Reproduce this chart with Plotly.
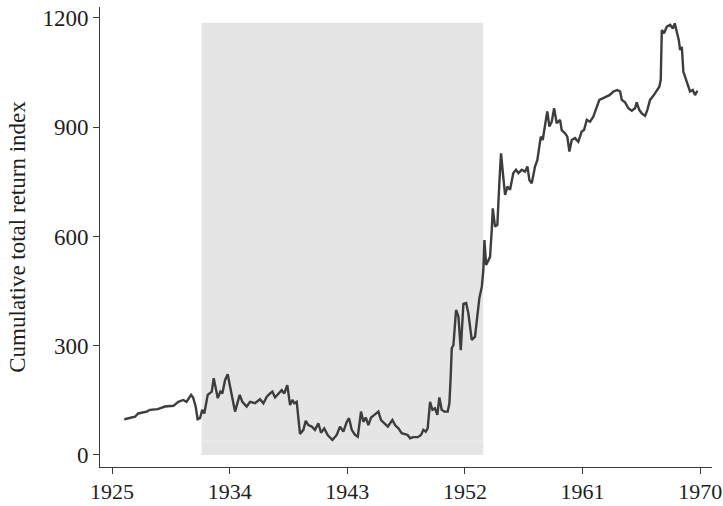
import plotly.graph_objects as go

# Cumulative total return index, read at irregular dates (decimal years)
years = [
    1925.94, 1926.76, 1927.0, 1927.65, 1927.9, 1928.5, 1929.05, 1929.7, 1930.07, 1930.45,
    1930.7, 1931.05, 1931.2, 1931.4, 1931.55, 1931.73, 1931.9, 1932.06, 1932.32, 1932.63,
    1932.78, 1932.93, 1933.09, 1933.29, 1933.44, 1933.65, 1933.85, 1934.03, 1934.2, 1934.41,
    1934.77, 1934.97, 1935.3, 1935.56, 1935.94, 1936.32, 1936.58, 1936.84, 1937.09, 1937.27,
    1937.47, 1937.73, 1937.98, 1938.18, 1938.41, 1938.62, 1938.8, 1938.95, 1939.13, 1939.38,
    1939.64, 1939.82, 1940.02, 1940.28, 1940.53, 1940.78, 1940.99, 1941.24, 1941.5, 1941.86,
    1942.19, 1942.44, 1942.7, 1942.96, 1943.13, 1943.34, 1943.59, 1943.8, 1944.05, 1944.23,
    1944.41, 1944.61, 1944.82, 1945.07, 1945.18, 1945.38, 1945.58, 1945.84, 1946.1, 1946.27,
    1946.45, 1946.65, 1946.91, 1947.16, 1947.42, 1947.62, 1947.8, 1948.05, 1948.39, 1948.64,
    1948.82, 1949.0, 1949.15, 1949.33, 1949.51, 1949.71, 1949.89, 1950.04, 1950.22, 1950.43,
    1950.68, 1950.81, 1950.91, 1950.99, 1951.12, 1951.32, 1951.5, 1951.68, 1951.88, 1952.09,
    1952.26, 1952.52, 1952.77, 1952.95, 1953.1, 1953.29, 1953.41, 1953.49, 1953.62, 1953.8,
    1953.92, 1954.05, 1954.13, 1954.3, 1954.48, 1954.63, 1954.76, 1954.94, 1955.07, 1955.25,
    1955.45, 1955.7, 1955.91, 1956.09, 1956.34, 1956.6, 1956.78, 1956.93, 1957.11, 1957.36,
    1957.54, 1957.8, 1957.95, 1958.13, 1958.3, 1958.46, 1958.64, 1958.82, 1959.02, 1959.28,
    1959.4, 1959.66, 1959.83, 1959.99, 1960.17, 1960.42, 1960.67, 1960.93, 1961.11, 1961.32,
    1961.57, 1961.82, 1962.08, 1962.28, 1962.54, 1962.8, 1963.05, 1963.36, 1963.66, 1963.87,
    1964.0, 1964.25, 1964.5, 1964.76, 1965.01, 1965.14, 1965.34, 1965.53, 1965.78, 1965.95,
    1966.16, 1966.41, 1966.67, 1966.87, 1966.98, 1967.06, 1967.23, 1967.44, 1967.7, 1967.9,
    1968.05, 1968.2, 1968.36, 1968.46, 1968.59, 1968.71, 1968.92, 1969.1, 1969.22, 1969.43,
    1969.6, 1969.78,
]
index_values = [
    98, 105, 114, 119, 124, 126, 133, 135, 146, 151,
    146, 165, 158, 133, 98, 101, 124, 114, 165, 174,
    211, 183, 156, 174, 169, 206, 222, 188, 160, 119,
    165, 146, 133, 146, 142, 153, 142, 160, 169, 174,
    158, 169, 178, 169, 192, 137, 151, 142, 146, 58,
    69, 94, 82, 78, 69, 87, 61, 73, 55, 41,
    55, 78, 64, 91, 101, 69, 55, 50, 119, 91,
    103, 82, 103, 110, 114, 119, 96, 87, 78, 87,
    96, 82, 73, 60, 58, 55, 46, 49, 49, 55,
    69, 64, 73, 146, 124, 128, 110, 158, 124, 119,
    119, 142, 215, 293, 302, 398, 380, 288, 415, 417,
    389, 316, 325, 380, 430, 462, 508, 590, 522, 535,
    544, 618, 677, 627, 632, 746, 828, 760, 714, 737,
    728, 774, 783, 774, 783, 778, 792, 755, 746, 792,
    810, 874, 865, 906, 943, 902, 915, 952, 911, 920,
    892, 883, 874, 833, 865, 870, 860, 888, 892, 920,
    915, 929, 956, 975, 979, 984, 988, 998, 1002, 998,
    975, 968, 952, 945, 952, 968, 947, 938, 931, 947,
    975, 986, 1002, 1011, 1030, 1167, 1158, 1176, 1181, 1171,
    1185, 1162, 1139, 1112, 1121, 1052, 1030, 1016, 998, 1002,
    988, 1000,
]

# Highlighted period (shaded band)
period_start = 1931.86
period_end = 1953.4
period_top = 1187
period_floor_line = 38

x_ticks = [1925, 1934, 1943, 1952, 1961, 1970]
y_ticks = [0, 300, 600, 900, 1200]

FONT = "Liberation Serif, Times New Roman, serif"
AXIS_COLOR = "#3a3a3a"
TEXT_COLOR = "#1e1e1e"
FS = 23
FS_X = 22

fig = go.Figure()

fig.add_shape(
    type="rect", xref="x", yref="y",
    x0=period_start, x1=period_end, y0=0, y1=period_top,
    fillcolor="#e5e5e5", line=dict(width=0), layer="below",
)
fig.add_shape(
    type="line", xref="x", yref="y",
    x0=period_start, x1=period_end, y0=period_floor_line, y1=period_floor_line,
    line=dict(color="#eeeeee", width=1), layer="below",
)

fig.add_trace(go.Scatter(
    x=years, y=index_values, mode="lines",
    line=dict(color="#3d3d3d", width=2.4),
    showlegend=False, hoverinfo="skip",
))

fig.update_layout(
    width=723, height=506,
    margin=dict(l=100, r=11, t=7, b=39),
    paper_bgcolor="white", plot_bgcolor="white",
    font=dict(family=FONT, size=FS, color=TEXT_COLOR),
    xaxis=dict(
        range=[1924.08, 1970.9], tickvals=x_ticks, ticktext=[str(t) for t in x_ticks],
        showgrid=False, zeroline=False, showline=True, linecolor=AXIS_COLOR, linewidth=1,
        ticks="outside", ticklen=6, tickcolor=AXIS_COLOR, tickwidth=1,
        tickfont=dict(family=FONT, size=FS_X, color=TEXT_COLOR),
        ticklabeloverflow="allow", ticklabelstandoff=-1,
        automargin=False,
    ),
    yaxis=dict(
        range=[-33, 1230], tickvals=y_ticks, ticktext=[str(t) for t in y_ticks],
        showgrid=False, zeroline=False, showline=True, linecolor=AXIS_COLOR, linewidth=1,
        ticks="outside", ticklen=6, tickcolor=AXIS_COLOR, tickwidth=1,
        tickfont=dict(family=FONT, size=FS, color=TEXT_COLOR),
        ticklabeloverflow="allow",
        title=dict(text="Cumulative total return index", standoff=10,
                   font=dict(family=FONT, size=FS, color=TEXT_COLOR)),
        automargin=False,
    ),
)

fig.write_html("out.html")
